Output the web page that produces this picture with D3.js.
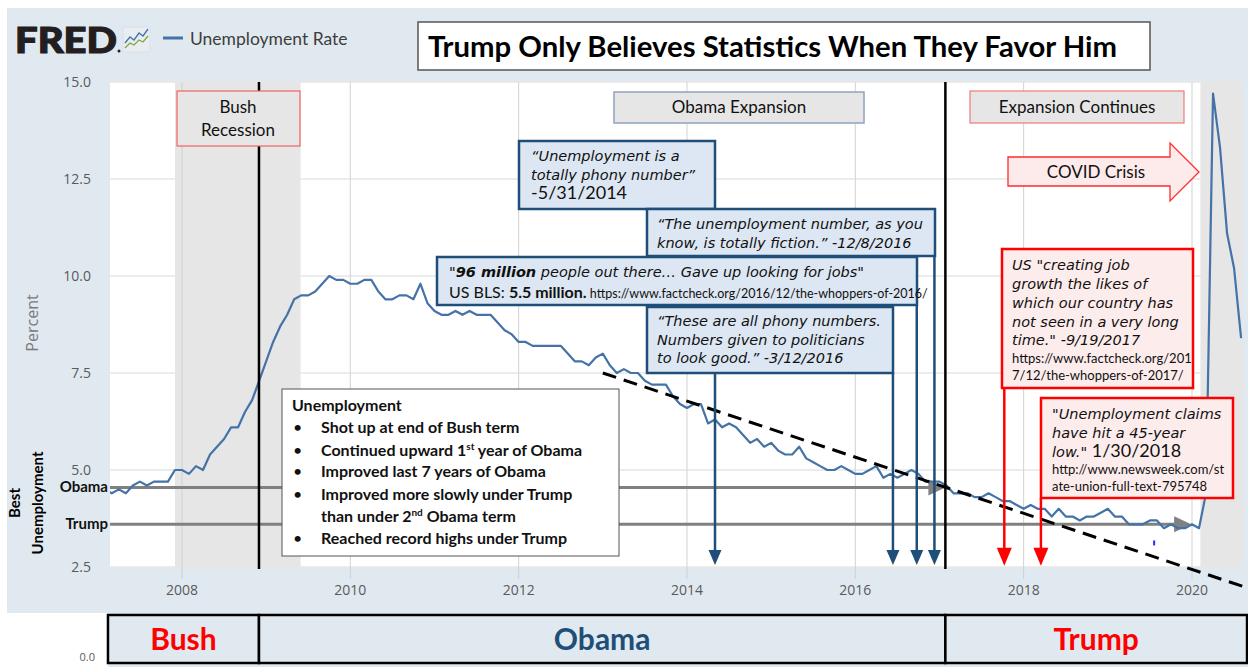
<!DOCTYPE html>
<html>
<head>
<meta charset="utf-8">
<script src="https://cdn.jsdelivr.net/npm/d3@7"></script>
<style>
  body { margin: 0; background: #fff; }
  svg { display: block; }
</style>
</head>
<body>
<div id="chart"></div>
<script>
// ---- data ----
// civilian unemployment rate (FRED UNRATE), monthly from Jan 2007
const startYear = 2007;
const unrate = [
  4.6, 4.5, 4.4, 4.5, 4.4, 4.6, 4.7, 4.6, 4.7, 4.7, 4.7, 5.0,
  5.0, 4.9, 5.1, 5.0, 5.4, 5.6, 5.8, 6.1, 6.1, 6.5, 6.8, 7.3,
  7.8, 8.3, 8.7, 9.0, 9.4, 9.5, 9.5, 9.6, 9.8, 10.0, 9.9, 9.9,
  9.8, 9.8, 9.9, 9.9, 9.6, 9.4, 9.4, 9.5, 9.5, 9.4, 9.8, 9.3,
  9.1, 9.0, 9.0, 9.1, 9.0, 9.1, 9.0, 9.0, 9.0, 8.8, 8.6, 8.5,
  8.3, 8.3, 8.2, 8.2, 8.2, 8.2, 8.2, 8.0, 7.8, 7.8, 7.7, 7.9,
  8.0, 7.7, 7.5, 7.6, 7.5, 7.5, 7.3, 7.2, 7.2, 7.2, 6.9, 6.7,
  6.6, 6.7, 6.7, 6.2, 6.3, 6.1, 6.2, 6.1, 5.9, 5.7, 5.8, 5.6,
  5.7, 5.5, 5.4, 5.4, 5.6, 5.3, 5.2, 5.1, 5.0, 5.0, 5.1, 5.0,
  4.9, 4.9, 5.0, 5.1, 4.8, 4.9, 4.8, 4.9, 5.0, 4.9, 4.7, 4.7,
  4.7, 4.6, 4.4, 4.4, 4.4, 4.3, 4.3, 4.4, 4.3, 4.2, 4.2, 4.1,
  4.0, 4.1, 4.0, 4.0, 3.8, 4.0, 3.8, 3.8, 3.7, 3.8, 3.8, 3.9,
  4.0, 3.8, 3.8, 3.6, 3.6, 3.6, 3.7, 3.7, 3.5, 3.6, 3.5, 3.5,
  3.6, 3.5, 4.4, 14.7, 13.3, 11.1, 10.2, 8.4
];
const yTicks = [2.5, 5.0, 7.5, 10.0, 12.5, 15.0];
const xTicks = [2008, 2010, 2012, 2014, 2016, 2018, 2020];
const recessions = [[2007.917, 2009.41], [2020.1, 2020.7]];
const inaugurations = [2008.915, 2017.07];
const terms = ["Bush", "Obama", "Trump"];
const termBounds = [2007.121, 2008.915, 2017.07, 2020.654];
const bestLabels = ["Obama", "Trump"];
const bestValues = [4.55, 3.6];
const bestUntil = [2017.07, 2019.99];
const trendFrom = [2013.0, 7.5];
const trendTo = [2020.66, 1.96];
const blueArrowDates = [2014.333, 2016.447, 2016.73, 2016.94];
const redArrowDates = [2017.77, 2018.205];
const strayDot = [2019.55, 3.12];

const listItems = [
  [["Shot up at end of Bush term"]],
  [["Continued upward 1"], ["st", "sup"], [" year of Obama"]],
  [["Improved last 7 years of Obama"]],
  [["Improved more slowly under Trump"]],
  [["than under 2"], ["nd", "sup"], [" Obama term"]],
  [["Reached record highs under Trump"]]
];

// ---- layout ----
const W = 1248, H = 667;
const plot = {left: 110, right: 1243, top: 82, bottom: 567};
const comic = "'DejaVu Sans', sans-serif";
const calibri = "Lato, 'Open Sans', sans-serif";
const bg = "#e1e9f0";

const svg = d3.select("#chart").append("svg")
    .attr("width", W)
    .attr("height", H);

const x = d3.scaleLinear()
    .domain([2007.145, 2020.606])
    .range([plot.left, plot.right]);

const y = d3.scaleLinear()
    .domain([2.5, 15])
    .range([plot.bottom, plot.top]);

// backgrounds
svg.append("rect").attr("width", W).attr("height", H).attr("fill", "#fff");
svg.append("rect").attr("x", 7).attr("y", 8).attr("width", W - 7).attr("height", 605).attr("fill", bg);
svg.append("rect").attr("x", 108).attr("y", 613).attr("width", W - 108).attr("height", H - 613).attr("fill", bg);

svg.append("text")
    .attr("x", 95).attr("y", 661)
    .attr("text-anchor", "end")
    .attr("font-family", "'Open Sans', sans-serif")
    .attr("font-size", 11)
    .attr("fill", "#5a5a5a")
    .text("0.0");

svg.append("rect")
    .attr("x", plot.left).attr("y", plot.top)
    .attr("width", plot.right - plot.left).attr("height", plot.bottom - plot.top)
    .attr("fill", "#fff");

svg.append("clipPath").attr("id", "plotclip")
  .append("rect")
    .attr("x", plot.left).attr("y", plot.top)
    .attr("width", plot.right - plot.left).attr("height", plot.bottom - plot.top);

// recession shading
svg.selectAll(".recession")
    .data(recessions)
    .enter().append("rect")
    .attr("class", "recession")
    .attr("clip-path", "url(#plotclip)")
    .attr("x", d => x(d[0]))
    .attr("width", d => x(d[1]) - x(d[0]))
    .attr("y", plot.top)
    .attr("height", plot.bottom - plot.top)
    .attr("fill", "#e6e6e6");

// grid
svg.selectAll(".hgrid")
    .data(yTicks)
    .enter().append("line")
    .attr("x1", plot.left).attr("x2", plot.right)
    .attr("y1", d => y(d)).attr("y2", d => y(d))
    .attr("stroke", "#e6e6e6")
    .attr("stroke-width", 1.5);

svg.selectAll(".vgrid")
    .data(xTicks)
    .enter().append("line")
    .attr("x1", d => x(d)).attr("x2", d => x(d))
    .attr("y1", plot.top).attr("y2", plot.bottom)
    .attr("stroke", "#d2d2d2")
    .attr("stroke-width", 1);

svg.selectAll(".xtickmark")
    .data(xTicks)
    .enter().append("line")
    .attr("x1", d => x(d)).attr("x2", d => x(d))
    .attr("y1", plot.bottom).attr("y2", plot.bottom + 12)
    .attr("stroke", "#c5d2e2")
    .attr("stroke-width", 1);

// axis labels
svg.selectAll(".ylab")
    .data(yTicks)
    .enter().append("text")
    .attr("x", 91)
    .attr("y", d => y(d) + 5)
    .attr("text-anchor", "end")
    .attr("font-family", "'Open Sans', sans-serif")
    .attr("font-size", 14)
    .attr("fill", "#5a5a5a")
    .text(d => d3.format(".1f")(d));

svg.selectAll(".xlab")
    .data(xTicks)
    .enter().append("text")
    .attr("x", d => x(d))
    .attr("y", 595)
    .attr("text-anchor", "middle")
    .attr("font-family", "'Open Sans', sans-serif")
    .attr("font-size", 14)
    .attr("fill", "#5a5a5a")
    .text(d => d);

svg.append("text")
    .attr("transform", "translate(38,323) rotate(-90)")
    .attr("text-anchor", "middle")
    .attr("font-family", "'Open Sans', sans-serif")
    .attr("font-size", 16)
    .attr("fill", "#7a7a7a")
    .text("Percent");

// best-level arrows (drawn before the line)
function hArrow(x0, x1, yy, color) {
    svg.append("line")
        .attr("x1", x0).attr("x2", x1 - 12)
        .attr("y1", yy).attr("y2", yy)
        .attr("stroke", color).attr("stroke-width", 3);
    svg.append("path")
        .attr("d", `M${x1},${yy} L${x1 - 17},${yy - 8} L${x1 - 17},${yy + 8} Z`)
        .attr("fill", color);
}
bestValues.forEach(function(v, i) {
    hArrow(plot.left, x(bestUntil[i]), y(v), "#808080");
});

// unemployment line
let line = d3.line()
    .x((d, i) => x(startYear + i / 12))
    .y(d => y(d));

svg.append("path")
    .datum(unrate)
    .attr("clip-path", "url(#plotclip)")
    .attr("d", line)
    .attr("fill", "none")
    .attr("stroke", "#4572a7")
    .attr("stroke-width", 2.2)
    .attr("stroke-linejoin", "round");

svg.append("rect")
    .attr("x", x(strayDot[0]) - 1).attr("y", y(strayDot[1]) - 2.5)
    .attr("width", 2).attr("height", 5)
    .attr("fill", "#2a2aff");

// inauguration lines
svg.selectAll(".inaug")
    .data(inaugurations)
    .enter().append("line")
    .attr("x1", d => x(d)).attr("x2", d => x(d))
    .attr("y1", plot.top).attr("y2", plot.bottom + 2)
    .attr("stroke", "#000")
    .attr("stroke-width", 2.5);

// trend line
svg.append("line")
    .attr("x1", x(trendFrom[0])).attr("y1", y(trendFrom[1]))
    .attr("x2", x(trendTo[0])).attr("y2", y(trendTo[1]))
    .attr("stroke", "#000")
    .attr("stroke-width", 3)
    .attr("stroke-dasharray", "14,8");

// vertical quote arrows
function vArrow(xx, y0, y1, color, hw, hl) {
    svg.append("line")
        .attr("x1", xx).attr("x2", xx)
        .attr("y1", y0).attr("y2", y1 - hl + 2)
        .attr("stroke", color).attr("stroke-width", 2.5);
    svg.append("path")
        .attr("d", `M${xx},${y1} L${xx - hw},${y1 - hl} L${xx + hw},${y1 - hl} Z`)
        .attr("fill", color);
}
const blueStarts = [209, 373, 305, 256];
blueArrowDates.forEach((d, i) => vArrow(x(d), blueStarts[i], y(2.55), "#1f4e79", 6.5, 15));
const redStarts = [388, 498];
redArrowDates.forEach((d, i) => vArrow(x(d), redStarts[i], y(2.53), "#ff0000", 7.5, 18));

// text helper: lines of segments [text, style, family, size]
function textBlock(x0, baselines, lines, opts) {
    let t = svg.append("text")
        .attr("font-family", opts.family)
        .attr("font-size", opts.size)
        .attr("fill", opts.fill || "#111")
        .attr("text-anchor", opts.anchor || "start");
    lines.forEach(function(segs, i) {
        if (typeof segs === "string") segs = [[segs]];
        segs.forEach(function(s, j) {
            let ts = t.append("tspan").text(s[0]);
            if (j === 0) ts.attr("x", x0).attr("y", baselines[i]);
            let st = s[1] || "";
            if (st.includes("i")) ts.attr("font-style", "italic");
            if (st.includes("b")) ts.attr("font-weight", "bold");
            if (st.includes("u")) ts.attr("font-style", "normal");
            if (s[2]) ts.attr("font-family", s[2]);
            if (s[3]) ts.attr("font-size", s[3]);
        });
    });
    return t;
}

function box(bx, by, bw, bh, fill, stroke, sw) {
    svg.append("rect")
        .attr("x", bx).attr("y", by)
        .attr("width", bw).attr("height", bh)
        .attr("fill", fill)
        .attr("stroke", stroke)
        .attr("stroke-width", sw);
}

// gray label boxes
box(177, 91, 123, 55, "#e6e6e6", "#f06262", 1.2);
textBlock(238, [113, 136], ["Bush", "Recession"], {family: calibri, size: 17, anchor: "middle"});
box(614, 92, 250, 31, "#e6e6e6", "#8fa3bf", 1.5);
textBlock(739, [113], ["Obama Expansion"], {family: calibri, size: 17, anchor: "middle"});
box(970, 91, 214, 32, "#e6e6e6", "#f07a7a", 1.2);
textBlock(1077, [113], ["Expansion Continues"], {family: calibri, size: 17, anchor: "middle"});

// covid arrow
svg.append("path")
    .attr("d", "M1008,157 L1170,157 L1170,143 L1199,172 L1170,201 L1170,186 L1008,186 Z")
    .attr("fill", "#fdeaea")
    .attr("stroke", "#ff2a2a")
    .attr("stroke-width", 1.3);
textBlock(1096, [178], ["COVID Crisis"], {family: calibri, size: 17, anchor: "middle"});

// blue quote boxes
const qFill = "#dce7f3", qStroke = "#1f4e79";
box(519, 141, 196, 68, qFill, qStroke, 2.5);
textBlock(531, [161, 180, 199], [
    [["\u201cUnemployment is a", "i"]],
    [["totally phony number\u201d", "i"]],
    [["-5/31/2014", "u", calibri, 18]]
], {family: comic, size: 14.5});

box(647, 209, 288, 47, qFill, qStroke, 2.5);
textBlock(657, [229, 248], [
    [["\u201cThe unemployment number, as you", "i"]],
    [["know, is totally fiction.\u201d -12/8/2016", "i"]]
], {family: comic, size: 14.5});

box(437, 257, 480, 48, qFill, qStroke, 2.5);
textBlock(449, [277, 298], [
    [["\"", "i"], ["96 million", "ib"], [" people out there\u2026 Gave up looking for jobs\"", "i"]],
    [["US BLS: ", "", calibri, 16], ["5.5 million.", "b", calibri, 16], [" https://www.factcheck.org/2016/12/the-whoppers-of-2016/", "", calibri, 12.5]]
], {family: comic, size: 14.5});

box(647, 307, 246, 66, qFill, qStroke, 2.5);
textBlock(657, [326, 345, 363], [
    [["\u201cThese are all phony numbers.", "i"]],
    [["Numbers given to politicians", "i"]],
    [["to look good.\u201d -3/12/2016", "i"]]
], {family: comic, size: 14.5});

// red quote boxes
const rFill = "#fdecec", rStroke = "#ff0000";
box(1002, 249, 191, 139, rFill, rStroke, 2.5);
textBlock(1012, [270, 289, 308, 327, 345, 363, 380], [
    [["US \"creating job", "i"]],
    [["growth the likes of", "i"]],
    [["which our country has", "i"]],
    [["not seen in a very long", "i"]],
    [["time.\" -9/19/2017", "i"]],
    [["https://www.factcheck.org/201", "", calibri, 13]],
    [["7/12/the-whoppers-of-2017/", "", calibri, 13]]
], {family: comic, size: 14.5});

box(1041, 398, 192, 100, rFill, rStroke, 2.5);
textBlock(1052, [419, 438, 457, 474, 491], [
    [["\"Unemployment claims", "i"]],
    [["have hit a 45-year", "i"]],
    [["low.\"", "i"], [" 1/30/2018", "u", calibri, 18]],
    [["http://www.newsweek.com/st", "", calibri, 13]],
    [["ate-union-full-text-795748", "", calibri, 13]]
], {family: comic, size: 14.5});

// summary list
box(282, 389, 337, 167, "#fff", "#555", 1);
textBlock(292, [411], ["Unemployment"], {family: calibri, size: 16, fill: "#111"}).attr("font-weight", "bold");
const itemBase = [433, 456, 477, 500, 522, 544];
const bulletRows = [0, 1, 2, 3, 5];
svg.selectAll(".bullet")
    .data(bulletRows)
    .enter().append("text")
    .attr("x", 293)
    .attr("y", d => itemBase[d])
    .attr("font-family", calibri)
    .attr("font-size", 16)
    .attr("fill", "#111")
    .text("\u2022");
let listText = svg.append("text")
    .attr("font-family", calibri)
    .attr("font-size", 16)
    .attr("font-weight", "bold")
    .attr("fill", "#111");
listItems.forEach(function(segs, i) {
    segs.forEach(function(s, j) {
        let ts = listText.append("tspan").text(s[0]);
        if (j === 0) ts.attr("x", 321).attr("y", itemBase[i]);
        if (s[1] === "sup") ts.attr("font-size", 10).attr("dy", -6);
        else if (j > 0 && segs[j - 1][1] === "sup") ts.attr("dy", 6);
    });
});

// best unemployment labels
bestLabels.forEach(function(lab, i) {
    svg.append("text")
        .attr("x", 108).attr("y", y(bestValues[i]) + 5)
        .attr("text-anchor", "end")
        .attr("font-family", calibri)
        .attr("font-size", 15)
        .attr("font-weight", "bold")
        .attr("fill", "#111")
        .text(lab);
});
svg.append("text")
    .attr("transform", "translate(20,503) rotate(-90)")
    .attr("text-anchor", "middle")
    .attr("font-family", calibri).attr("font-size", 15).attr("font-weight", "bold")
    .text("Best");
svg.append("text")
    .attr("transform", "translate(43,503) rotate(-90)")
    .attr("text-anchor", "middle")
    .attr("font-family", calibri).attr("font-size", 15).attr("font-weight", "bold")
    .text("Unemployment");

// presidential terms strip
const termColors = ["#ff0000", "#1f4e79", "#ff0000"];
svg.selectAll(".term")
    .data(terms)
    .enter().append("rect")
    .attr("x", (d, i) => x(termBounds[i]))
    .attr("width", (d, i) => x(termBounds[i + 1]) - x(termBounds[i]))
    .attr("y", 615).attr("height", 48)
    .attr("fill", bg)
    .attr("stroke", "#000")
    .attr("stroke-width", 2.5);
svg.selectAll(".termlab")
    .data(terms)
    .enter().append("text")
    .attr("x", (d, i) => (x(termBounds[i]) + x(termBounds[i + 1])) / 2)
    .attr("y", 650)
    .attr("text-anchor", "middle")
    .attr("font-family", calibri)
    .attr("font-size", 30)
    .attr("font-weight", "bold")
    .attr("fill", (d, i) => termColors[i])
    .text(d => d);

// header: FRED logo, legend, title
svg.append("text")
    .attr("x", 15).attr("y", 53)
    .attr("font-family", "Lato, 'DejaVu Sans', sans-serif")
    .attr("font-size", 36)
    .attr("font-weight", 900)
    .attr("textLength", 102)
    .attr("lengthAdjust", "spacingAndGlyphs")
    .attr("fill", "#231f20")
    .attr("stroke", "#231f20")
    .attr("stroke-width", 1.2)
    .text("FRED");
svg.append("circle").attr("cx", 119).attr("cy", 51).attr("r", 1.5).attr("fill", "#231f20");
svg.append("rect").attr("x", 123).attr("y", 27).attr("width", 27).attr("height", 25)
    .attr("fill", "#e8edf2").attr("stroke", "#cfd7df").attr("stroke-width", 0.5);
svg.append("path").attr("d", "M125,43 L130,37 L134,40 L139,33 L143,36 L148,29")
    .attr("fill", "none").attr("stroke", "#4572a7").attr("stroke-width", 1.3);
svg.append("path").attr("d", "M125,48 L130,43 L134,45 L139,40 L143,42 L148,36")
    .attr("fill", "none").attr("stroke", "#7dab3c").attr("stroke-width", 1.3);

svg.append("line").attr("x1", 163).attr("x2", 183).attr("y1", 38).attr("y2", 38)
    .attr("stroke", "#4572a7").attr("stroke-width", 3);
svg.append("text")
    .attr("x", 190).attr("y", 45)
    .attr("font-family", calibri)
    .attr("font-size", 17.5)
    .attr("fill", "#3d3d3d")
    .text("Unemployment Rate");

box(418, 22, 732, 48, "#fff", "#555", 1.5);
svg.append("text")
    .attr("x", 428).attr("y", 57)
    .attr("font-family", calibri)
    .attr("font-size", 29)
    .attr("font-weight", "bold")
    .attr("textLength", 689)
    .attr("lengthAdjust", "spacingAndGlyphs")
    .attr("fill", "#000")
    .text("Trump Only Believes Statistics When They Favor Him");
</script>
</body>
</html>
